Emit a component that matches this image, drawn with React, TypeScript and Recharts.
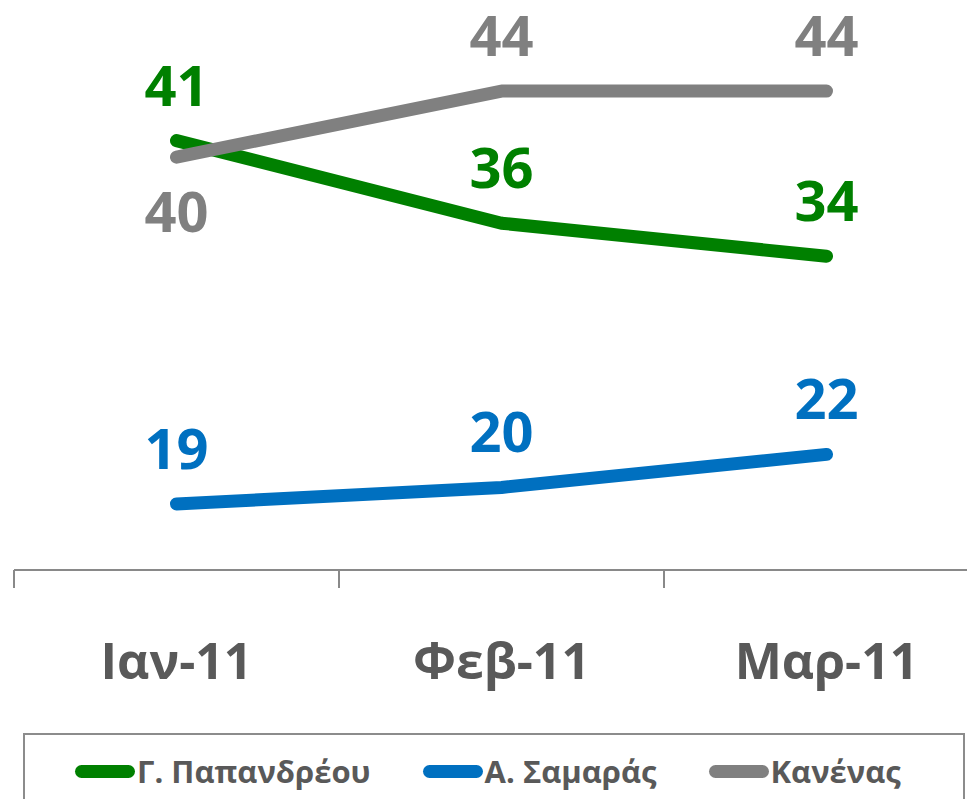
import React from "react";
import { LineChart, Line, XAxis, YAxis, Legend, LabelList } from "recharts";

const months = ["Ιαν-11", "Φεβ-11", "Μαρ-11"];
const papandreou = [41, 36, 34];
const samaras = [19, 20, 22];
const kanenas = [40, 44, 44];

const seriesNames = ["Γ. Παπανδρέου", "Α. Σαμαράς", "Κανένας"];
const seriesColors = ["#008000", "#0070C0", "#808080"];
// label placement: -1 above, +1 below
const kanenasLabelSide = [1, -1, -1];

const data = months.map((m, i) => ({
  idx: i,
  month: m,
  p: papandreou[i],
  s: samaras[i],
  k: kanenas[i],
}));

const CHART_W = 1000;
const CHART_H = 807;
const MARGIN = { top: 0, right: 11, bottom: 0, left: 14 };
const PLOT_W = CHART_W - MARGIN.left - MARGIN.right;
const BAND = PLOT_W / months.length;
const FONT = "'Open Sans', 'Noto Sans', sans-serif";
const TEXT_GRAY = "#595959";
const AXIS_GRAY = "#898989";

const XTick = (props: any) => {
  const { x, y, payload, index } = props;
  return (
    <g>
      <line x1={x - BAND / 2} y1={y} x2={x - BAND / 2} y2={y + 18} stroke={AXIS_GRAY} strokeWidth={2} />
      {index === months.length - 1 && (
        <line x1={x + BAND / 2} y1={y} x2={x + BAND / 2} y2={y + 18} stroke={AXIS_GRAY} strokeWidth={2} />
      )}
      <text
        x={x}
        y={y + 109}
        textAnchor="middle"
        fontFamily={FONT}
        fontWeight={700}
        fontSize={50}
        fill={TEXT_GRAY}
      >
        {months[payload.value]}
      </text>
    </g>
  );
};

const makeLabel = (color: string, sides: number[]) => (props: any) => {
  const { x, y, value, index } = props;
  const side = sides[index];
  const cy = y + side * 55;
  return (
    <text
      x={x}
      y={cy + 20}
      textAnchor="middle"
      fontFamily={FONT}
      fontWeight={700}
      fontSize={56}
      fill={color}
    >
      {value}
    </text>
  );
};

const renderLegend = () => {
  return (
    <div
      style={{
        boxSizing: "border-box",
        width: "100%",
        height: "100%",
        border: "2px solid #8c8c8c",
        display: "flex",
        alignItems: "flex-start",
        paddingLeft: 50,
        paddingTop: 16,
        gap: 52,
      }}
    >
      {seriesNames.map((name, i) => (
        <div key={name} style={{ display: "flex", alignItems: "center", gap: 2 }}>
          <div style={{ width: 60, height: 13, borderRadius: 6.5, background: seriesColors[i] }} />
          <span
            style={{
              fontFamily: FONT,
              fontWeight: 700,
              fontSize: 31,
              color: TEXT_GRAY,
              lineHeight: "40px",
              whiteSpace: "nowrap",
            }}
          >
            {name}
          </span>
        </div>
      ))}
    </div>
  );
};

export default function App() {
  return (
    <div
      style={{
        position: "absolute",
        left: 0,
        top: 0,
        width: 967,
        height: 799,
        overflow: "hidden",
        background: "#ffffff",
      }}
    >
      <div style={{ position: "absolute", left: 0, top: -8 }}>
        <LineChart width={CHART_W} height={CHART_H} data={data} margin={MARGIN}>
          <XAxis
            dataKey="idx"
            type="number"
            domain={[-0.5, months.length - 0.5]}
            ticks={months.map((_, i) => i)}
            height={229}
            axisLine={{ stroke: AXIS_GRAY, strokeWidth: 2 }}
            tickLine={false}
            tickSize={0}
            tickMargin={0}
            tick={<XTick />}
            interval={0}
          />
          <YAxis hide domain={[15, 50]} />
          <Legend
            layout="horizontal"
            verticalAlign="middle"
            align="center"
            wrapperStyle={{ left: 23, top: 741, width: 942, height: 100 }}
            content={renderLegend}
          />
          <Line
            dataKey="p"
            name={seriesNames[0]}
            stroke={seriesColors[0]}
            strokeWidth={13}
            strokeLinecap="round"
            strokeLinejoin="round"
            dot={false}
            isAnimationActive={false}
          >
            <LabelList dataKey="p" content={makeLabel(seriesColors[0], [-1, -1, -1])} />
          </Line>
          <Line
            dataKey="s"
            name={seriesNames[1]}
            stroke={seriesColors[1]}
            strokeWidth={13}
            strokeLinecap="round"
            strokeLinejoin="round"
            dot={false}
            isAnimationActive={false}
          >
            <LabelList dataKey="s" content={makeLabel(seriesColors[1], [-1, -1, -1])} />
          </Line>
          <Line
            dataKey="k"
            name={seriesNames[2]}
            stroke={seriesColors[2]}
            strokeWidth={13}
            strokeLinecap="round"
            strokeLinejoin="round"
            dot={false}
            isAnimationActive={false}
          >
            <LabelList dataKey="k" content={makeLabel(seriesColors[2], kanenasLabelSide)} />
          </Line>
        </LineChart>
      </div>
    </div>
  );
}
